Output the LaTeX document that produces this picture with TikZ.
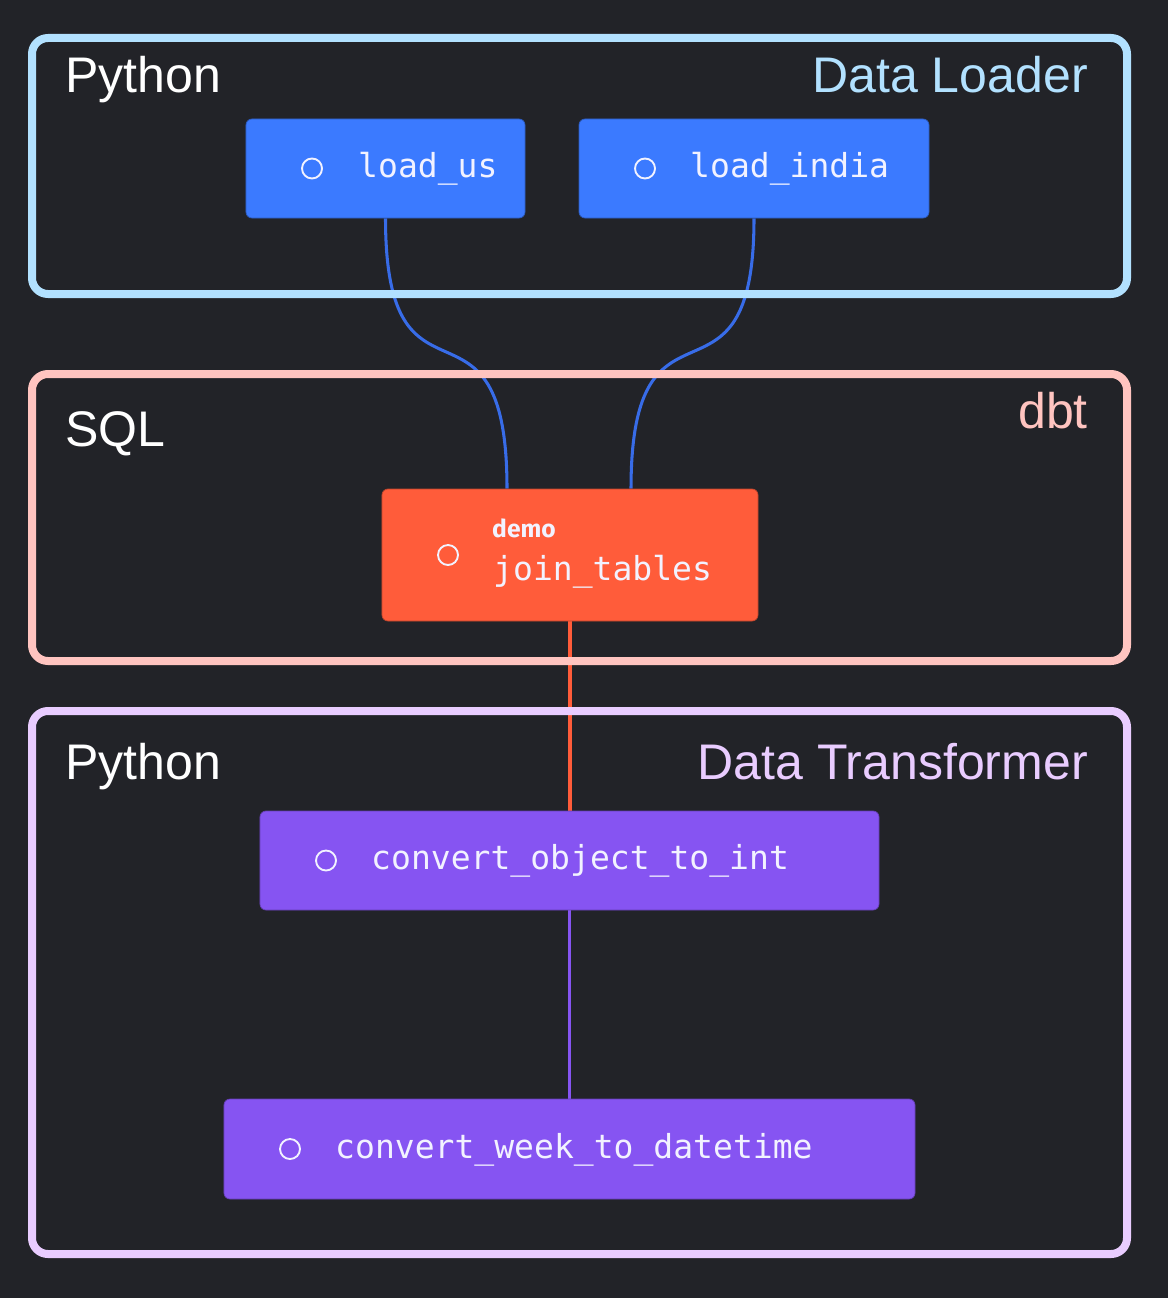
\documentclass[tikz,border=0pt]{standalone}
\usepackage{fontspec}
\setmainfont{Liberation Sans}
\newfontfamily\monofont{DejaVu Sans Mono}
\newfontfamily\tagfont{Fira Sans}
\usepackage{tikz}
\usetikzlibrary{calc,positioning,backgrounds}
\definecolor{canvas}{RGB}{34,35,40}
\definecolor{loaderfr}{RGB}{178,225,255}
\definecolor{dbtfr}{RGB}{255,196,192}
\definecolor{transfr}{RGB}{233,204,255}
\definecolor{loadfill}{RGB}{59,122,255}
\definecolor{loadedge}{RGB}{56,108,232}
\definecolor{dbtfill}{RGB}{255,92,58}
\definecolor{transfill}{RGB}{134,84,242}
\definecolor{blocktext}{RGB}{242,242,255}
\pgfdeclarelayer{edges}
\pgfsetlayers{background,edges,main}
\tikzset{
  grpframe/.style={line width=8*0.03cm, rounded corners=0.48cm},
  grptitle/.style={font=\fontsize{42.7}{50}\selectfont, inner sep=0pt},
  block/.style={rectangle, rounded corners=0.18cm, line width=0.6pt,
                inner sep=0pt},
  bdot/.style={circle, draw=blocktext, line width=1.6pt, minimum size=0.6cm,
               inner sep=0pt},
  btext/.style={font=\monofont\fontsize{28.2}{33}\selectfont, text=blocktext,
                inner sep=0pt, anchor=base west},
  btag/.style={font=\tagfont\bfseries\fontsize{21}{25}\selectfont,
               text=blocktext, inner sep=0pt, anchor=base west},
  dep/.style={line width=2.6pt},
}
\begin{document}
\begin{tikzpicture}[x=0.03cm,y=-0.03cm]
  \useasboundingbox (0,0) rectangle (1168,1298);
  \begin{pgfonlayer}{background}
    \fill[canvas] (0,0) rectangle (1168,1298);
  \end{pgfonlayer}

  % --- group frames ---
  \draw[grpframe, loaderfr] (32,38) rectangle (1127,294);
  \draw[grpframe, dbtfr] (32,374) rectangle (1127,661);
  \draw[grpframe, transfr] (32,711) rectangle (1127,1254);
  \node[grptitle, white, anchor=base west] (t1) at (65,93) {Python};
  \node[grptitle, loaderfr, anchor=base east] (t1r) at (1088,93) {Data Loader};
  \node[grptitle, white, anchor=base west] (t2) at (65,446) {SQL};
  \node[grptitle, dbtfr, anchor=base east] (t2r) at (1088,428) {dbt};
  \node[grptitle, white, anchor=base west] (t3) at (65,779) {Python};
  \node[grptitle, transfr, anchor=base east] (t3r) at (1088,779) {Data Transformer};

  % --- blocks: name/centre/size/colour/dot/text/baseline/label ---
  \foreach \n/\cx/\cy/\w/\h/\fc/\dx/\tx/\by/\lbl in {
      us/385.5/168.5/8.37/2.97/loadfill/312/358/178/{load\_us},
      india/754/168.5/10.5/2.97/loadfill/645/690/178/{load\_india},
      obj/569.5/860.5/18.57/2.97/transfill/326/371/869/{convert\_object\_to\_int},
      week/569.5/1149/20.73/3.0/transfill/290/335/1158/{convert\_week\_to\_datetime}}{
    \node[block, fill=\fc, draw=\fc!75!black, minimum width=\w cm,
          minimum height=\h cm] (\n) at (\cx,\cy) {};
    \node[bdot] (\n-dot) at (\dx,\cy) {};
    \node[btext] (\n-txt) at (\tx,\by) {\lbl};
  }
  \node[block, fill=dbtfill, draw=dbtfill!75!black, minimum width=11.28cm,
        minimum height=3.96cm] (jt) at (570,555) {};
  \node[bdot] (jt-dot) at (448,555) {};
  \node[btag] (jt-tag) at (492,537) {demo};
  \node[btext] (jt-txt) at (493,580) {join\_tables};

  % --- dependencies ---
  \coordinate (jt-in1) at ([xshift=-1.89cm]jt.north);
  \coordinate (jt-in2) at ([xshift=1.83cm]jt.north);
  \begin{pgfonlayer}{edges}
    \draw[dep, loadedge] (us.south) .. controls +(0,214) and +(0,-218) .. (jt-in1);
    \draw[dep, loadedge] (india.south) .. controls +(0,214) and +(0,-218) .. (jt-in2);
    \draw[dep, dbtfill] (jt.south) -- (jt.south |- obj.north);
    \draw[dep, transfill] (obj.south) -- (obj.south |- week.north);
  \end{pgfonlayer}
\end{tikzpicture}
\end{document}
